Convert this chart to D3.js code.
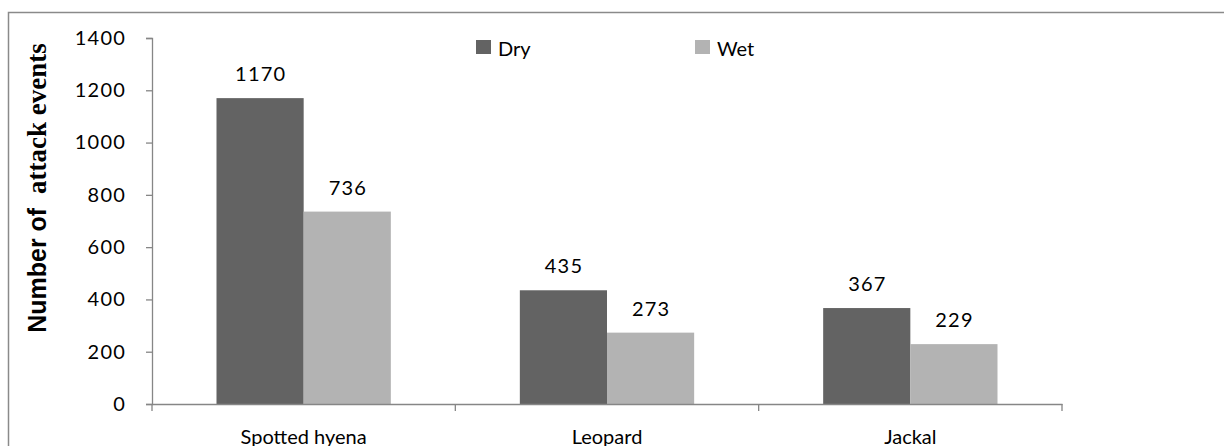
<!DOCTYPE html>
<html><head><meta charset="utf-8">
<script src="https://cdn.jsdelivr.net/npm/d3@7"></script>
<style>body{margin:0;background:#fff}svg{display:block}</style>
</head><body>
<script>
const categories = ["Spotted hyena", "Leopard", "Jackal"];
const seriesNames = ["Dry", "Wet"];
const dryValues = [1170, 435, 367];
const wetValues = [736, 273, 229];
const yTicks = [0, 200, 400, 600, 800, 1000, 1200, 1400];
const colors = {Dry: "#636363", Wet: "#b3b3b3"};

(function () {
const W = 1224, H = 446;
const mLeft = 152, mRight = 1062, mTop = 38, mBottom = 404;
const font = "Lato, 'Open Sans', sans-serif";
const svg = d3.select("body").append("svg").attr("width", W).attr("height", H);

// outer frame
svg.append("path").attr("d", `M8.5,${H+5} L8.5,12.5 L${W+5},12.5`)
  .attr("fill", "none").attr("stroke", "#8a8a8a").attr("stroke-width", 1.5);

const x0 = d3.scaleBand().domain(categories).range([mLeft, mRight]).paddingInner(0).paddingOuter(0);
const x1 = d3.scaleBand().domain(seriesNames).range([0, x0.bandwidth()]).paddingOuter(0.74).paddingInner(0);
const y = d3.scaleLinear().domain([0, 1400]).range([mBottom, mTop]);

const data = categories.map((c, i) => ({cat: c, vals: [{s: "Dry", v: dryValues[i]}, {s: "Wet", v: wetValues[i]}]}));

const g = svg.append("g").selectAll("g").data(data).join("g")
  .attr("transform", d => `translate(${x0(d.cat)},0)`);
g.selectAll("rect").data(d => d.vals).join("rect")
  .attr("x", d => x1(d.s)).attr("width", x1.bandwidth())
  .attr("y", d => y(d.v)).attr("height", d => y(0) - y(d.v))
  .attr("fill", d => colors[d.s]);
g.selectAll("text").data(d => d.vals).join("text")
  .attr("x", d => x1(d.s) + x1.bandwidth() / 2 + 0.6)
  .attr("y", d => y(d.v) - 17)
  .attr("text-anchor", "middle").attr("font-family", font).attr("font-size", 20)
  .attr("letter-spacing", 1.2)
  .attr("fill", "#000").text(d => d.v);

// y axis
const ya = svg.append("g").attr("transform", `translate(${mLeft},0)`)
  .call(d3.axisLeft(y).tickValues(yTicks).tickSize(6).tickPadding(20).tickFormat(d3.format("d")));
ya.select(".domain").attr("stroke", "#868686").attr("stroke-width", 1.3);
ya.selectAll(".tick line").attr("stroke", "#868686").attr("stroke-width", 1.3);
ya.selectAll(".tick text").attr("font-family", font).attr("font-size", 20)
  .attr("letter-spacing", 1.2).attr("fill", "#000");

// x axis
const xa = svg.append("g").attr("transform", `translate(0,${mBottom})`)
  .call(d3.axisBottom(x0).tickSize(0).tickPadding(26));
xa.select(".domain").attr("stroke", "#868686").attr("stroke-width", 1.3);
xa.selectAll(".tick text").attr("font-family", font).attr("font-size", 20).attr("fill", "#000");
const bounds = [...categories.map(c => x0(c)), mRight];
xa.selectAll(".sep").data(bounds).join("line").attr("class", "sep")
  .attr("x1", d => d).attr("x2", d => d).attr("y1", 0).attr("y2", 7)
  .attr("stroke", "#868686").attr("stroke-width", 1.3);

// y title
const t = svg.append("text").attr("transform", "translate(46,188) rotate(-90)")
  .attr("text-anchor", "middle").attr("font-weight", "bold");
t.append("tspan").attr("font-size", 25).attr("font-family", "'Liberation Sans', Arial, sans-serif").text("Number of\u00a0 ");
t.append("tspan").attr("font-size", 27).attr("font-family", "'Liberation Serif', 'Times New Roman', serif").text("attack events");

// legend
const legX = [476, 695];
const lg = svg.append("g").selectAll("g").data(seriesNames).join("g")
  .attr("transform", (d, i) => `translate(${legX[i]},40)`);
lg.append("rect").attr("width", 15).attr("height", 14).attr("fill", d => colors[d]);
lg.append("text").attr("x", 22).attr("y", 15.5).attr("font-family", font).attr("font-size", 20).text(d => d);
})();
</script>
</body></html>
